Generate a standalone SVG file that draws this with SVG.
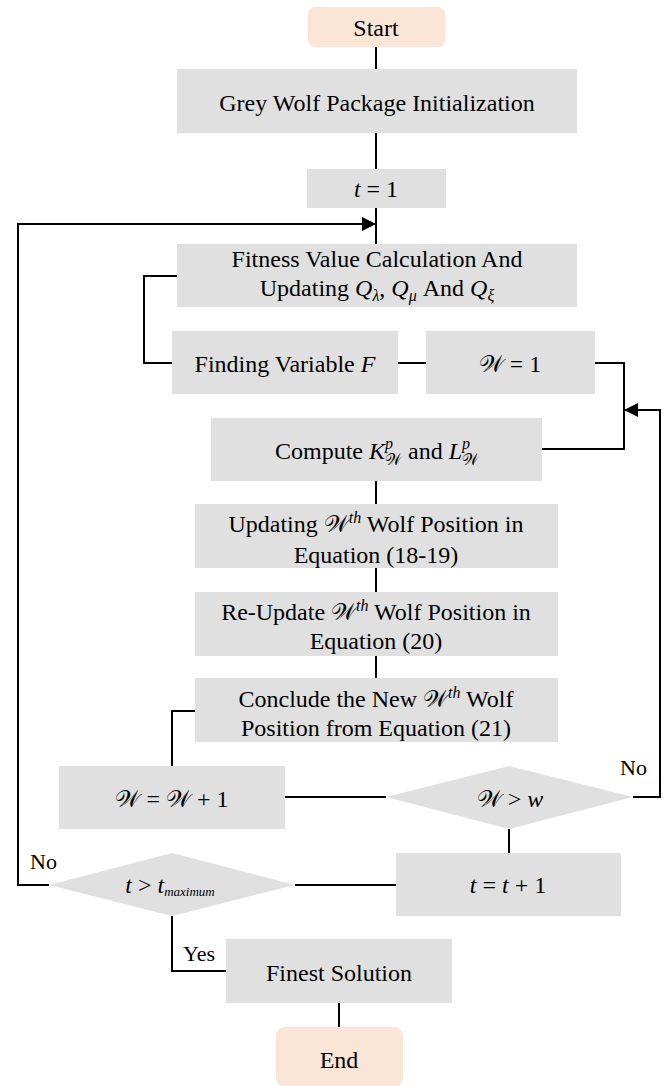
<svg xmlns="http://www.w3.org/2000/svg" width="665" height="1086" viewBox="0 0 665 1086">
<defs>
<style>
.box{fill:#e0e0e0;}
.term{fill:#fbe5d6;}
.t{font-family:"Liberation Serif","Times New Roman",serif;font-size:24px;fill:#000;text-anchor:middle;}
.m{font-style:italic;}
.s{font-family:"Liberation Serif","DejaVu Serif","DejaVu Sans","Noto Sans",serif;}
.lbl{font-family:"Liberation Serif","Times New Roman",serif;font-size:22px;fill:#000;}
.c{fill:none;stroke:#000;stroke-width:2;}
</style>
<marker id="arr" markerUnits="userSpaceOnUse" markerWidth="14" markerHeight="14" viewBox="0 0 14 14" refX="14" refY="7" orient="auto">
<path d="M0,0 L14,7 L0,14 Z" fill="#000"/>
</marker>
</defs>
<g id="connectors">
<path class="c" d="M376,47 V69"/>
<path class="c" d="M376,133 V169"/>
<path class="c" d="M376,208 V244"/>
<path class="c" d="M49,885 H18 V224 H376" marker-end="url(#arr)"/>
<path class="c" d="M177,276 H144 V363 H172"/>
<path class="c" d="M398,363 H426"/>
<path class="c" d="M595,363 H624 V449 H542"/>
<path class="c" d="M633,797 H660 V410 H624" marker-end="url(#arr)"/>
<path class="c" d="M376,481 V504"/>
<path class="c" d="M376,568 V592"/>
<path class="c" d="M376,656 V678"/>
<path class="c" d="M195,711 H172 V766"/>
<path class="c" d="M285,797 H386"/>
<path class="c" d="M509,829 V853"/>
<path class="c" d="M396,885 H295"/>
<path class="c" d="M172,916 V971 H226"/>
<path class="c" d="M339,1003 V1027"/>
</g>
<g id="start">
<rect class="term" x="308" y="7" width="137" height="40" rx="7"/>
<text class="t" x="376" y="36">Start</text>
</g>
<g id="init">
<rect class="box" x="177" y="69" width="400" height="64"/>
<text class="t" x="377" y="111">Grey Wolf Package Initialization</text>
</g>
<g id="t1">
<rect class="box" x="307" y="169" width="139" height="39"/>
<text class="t" x="376" y="197"><tspan class="m">t</tspan> = 1</text>
</g>
<g id="fitness">
<rect class="box" x="177" y="244" width="400" height="63"/>
<text class="t" x="377" y="267">Fitness Value Calculation And</text>
<text class="t" x="377" y="296">Updating <tspan class="m">Q</tspan><tspan class="m" font-size="16" dy="5">λ</tspan><tspan dy="-5">, </tspan><tspan class="m">Q</tspan><tspan class="m" font-size="16" dy="5">μ</tspan><tspan dy="-5"> And </tspan><tspan class="m">Q</tspan><tspan class="m" font-size="16" dy="5">ξ</tspan></text>
</g>
<g id="findF">
<rect class="box" x="172" y="331" width="226" height="63"/>
<text class="t" x="285" y="372">Finding Variable <tspan class="m">F</tspan></text>
</g>
<g id="w1">
<rect class="box" x="426" y="331" width="169" height="63"/>
<text class="t" x="510" y="372"><tspan class="s">𝒲</tspan> = 1</text>
</g>
<g id="compute">
<rect class="box" x="211" y="418" width="331" height="63"/>
<text class="t" x="377" y="459">Compute <tspan class="m">K</tspan><tspan class="m" font-size="16" dy="-10">p</tspan><tspan class="s" font-size="16" dx="-8" dy="16">𝒲</tspan><tspan dy="-6"> and </tspan><tspan class="m">L</tspan><tspan class="m" font-size="16" dy="-10">p</tspan><tspan class="s" font-size="16" dx="-8" dy="16">𝒲</tspan></text>
</g>
<g id="update1">
<rect class="box" x="195" y="504" width="363" height="64"/>
<text class="t" x="376" y="532">Updating <tspan class="s">𝒲</tspan><tspan class="m" font-size="16" dy="-9">th</tspan><tspan dy="9"> Wolf Position in</tspan></text>
<text class="t" x="376" y="563">Equation (18-19)</text>
</g>
<g id="update2">
<rect class="box" x="195" y="592" width="363" height="64"/>
<text class="t" x="376" y="620">Re-Update <tspan class="s">𝒲</tspan><tspan class="m" font-size="16" dy="-9">th</tspan><tspan dy="9"> Wolf Position in</tspan></text>
<text class="t" x="376" y="649">Equation (20)</text>
</g>
<g id="conclude">
<rect class="box" x="195" y="678" width="363" height="64"/>
<text class="t" x="376" y="707">Conclude the New <tspan class="s">𝒲</tspan><tspan class="m" font-size="16" dy="-9">th</tspan><tspan dy="9"> Wolf</tspan></text>
<text class="t" x="376" y="736">Position from Equation (21)</text>
</g>
<g id="winc">
<rect class="box" x="59" y="766" width="226" height="63"/>
<text class="t" x="172" y="807"><tspan class="s">𝒲</tspan> = <tspan class="s">𝒲</tspan> + 1</text>
</g>
<g id="dec1">
<polygon class="box" points="386,797 509,766 633,797 509,829"/>
<text class="t" x="510" y="807"><tspan class="s">𝒲</tspan> &gt; <tspan class="m">w</tspan></text>
<text class="lbl" x="620" y="775">No</text>
</g>
<g id="tinc">
<rect class="box" x="396" y="853" width="225" height="63"/>
<text class="t" x="508" y="893"><tspan class="m">t</tspan> = <tspan class="m">t</tspan> + 1</text>
</g>
<g id="dec2">
<polygon class="box" points="49,885 172,853 295,885 172,916"/>
<text class="t" x="170" y="893" font-size="16"><tspan class="m">t</tspan> &gt; <tspan class="m">t</tspan><tspan class="m" font-size="13" dy="3">maximum</tspan></text>
<text class="lbl" x="30" y="869">No</text>
<text class="lbl" x="183" y="961">Yes</text>
</g>
<g id="finest">
<rect class="box" x="226" y="939" width="226" height="64"/>
<text class="t" x="339" y="981">Finest Solution</text>
</g>
<g id="end">
<rect class="term" x="276" y="1027" width="127" height="60" rx="9"/>
<text class="t" x="339" y="1068">End</text>
</g>
</svg>
